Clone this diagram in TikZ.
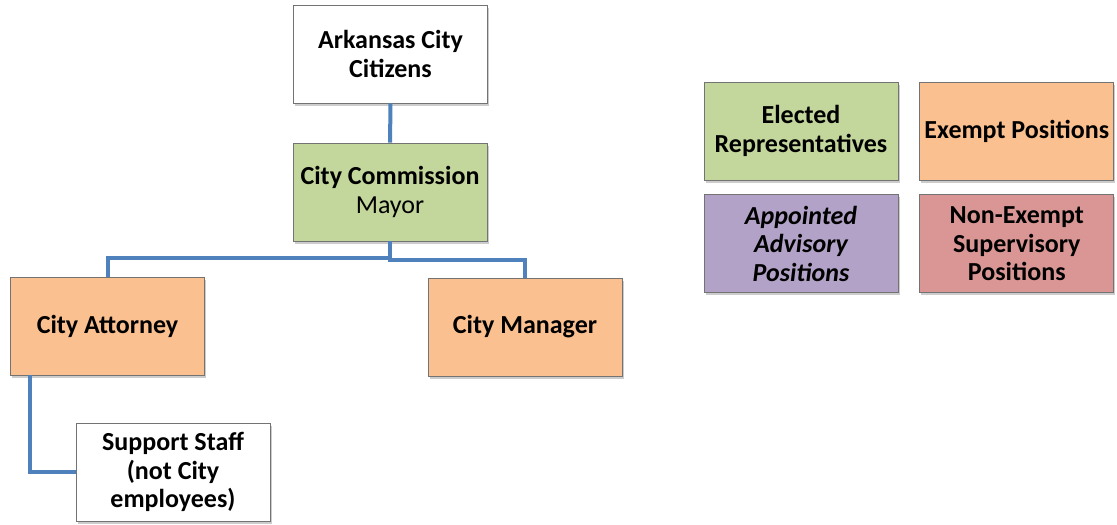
\documentclass[tikz,border=0pt]{standalone}
\usepackage{fontspec}
\setmainfont{Carlito}
\usetikzlibrary{positioning,shadows,calc}

\definecolor{elected}{HTML}{C3D69B}
\definecolor{exempt}{HTML}{FAC090}
\definecolor{advisory}{HTML}{B3A2C7}
\definecolor{nonexempt}{HTML}{D99694}
\definecolor{linkblue}{HTML}{4F81BD}

\begin{document}
\begin{tikzpicture}[
  x=1pt, y=-1pt,
  font=\fontsize{26}{28.5}\selectfont\bfseries,
  box/.style={draw=black!55, line width=0.8pt, align=center, minimum width=194pt, minimum height=98pt,
    inner sep=2pt, fill=white, drop shadow={shadow xshift=1.5pt, shadow yshift=-2.5pt, fill=black!40}},
  link/.style={draw=linkblue, line width=4pt}
]
\useasboundingbox (0,0) rectangle (1117,525);

% chart
\node[box] (cit) at (390.5,54) {Arkansas City\\Citizens};
\node[box, fill=elected] (comm) at (390,192) {City Commission\\\mdseries Mayor};
\node[box, fill=exempt] (att) at (107.5,326) {City Attorney};
\node[box, fill=exempt] (mgr) at (525,327) {City Manager};
\node[box] (staff) at (173,472) {Support Staff\\(not City\\employees)};

\draw[link] (cit) -- (comm);
\draw[link] (comm.south) -- ++(0,17) -| (att.north);
\draw[link] (comm.south) -- ++(0,19) -| (mgr.north);
\draw[link] ($(att.south west)+(20,0)$) |- (staff.west);

% legend
\node[box, fill=elected] (kelect) at (801,131) {Elected\\Representatives};
\node[box, fill=exempt, right=21pt of kelect] (kexempt) {Exempt Positions};
\node[box, fill=advisory, below=14pt of kelect] (kadvis) {\itshape Appointed\\\itshape Advisory\\\itshape Positions};
\node[box, fill=nonexempt, below=14pt of kexempt] (knonex) {Non-Exempt\\Supervisory\\Positions};

\end{tikzpicture}
\end{document}
